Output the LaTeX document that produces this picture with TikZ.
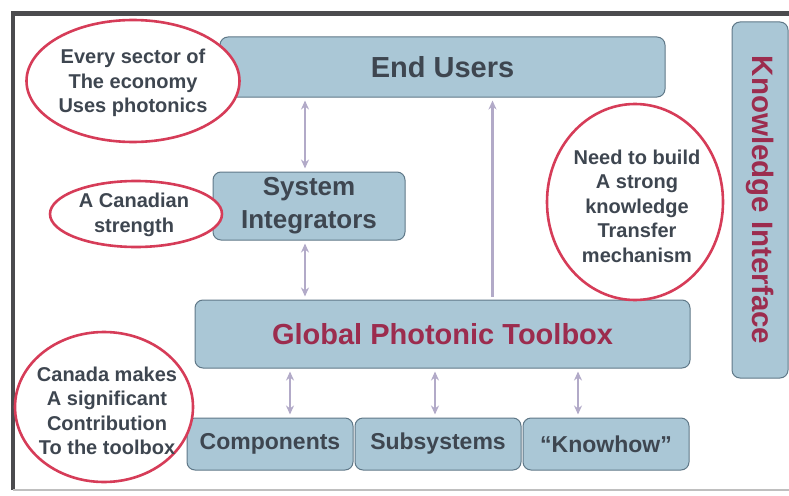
\documentclass[tikz,border=0pt]{standalone}
\usepackage{fontspec}
\setmainfont{Liberation Sans}
\usetikzlibrary{positioning, arrows.meta, shapes.geometric}

\definecolor{boxblue}{RGB}{170,199,214}
\definecolor{boxedge}{RGB}{95,120,136}
\definecolor{textgray}{RGB}{62,70,80}
\definecolor{toolred}{RGB}{156,44,78}
\definecolor{remarkred}{RGB}{214,60,88}
\definecolor{linkgray}{RGB}{178,170,200}
\definecolor{framegray}{RGB}{75,75,78}

\tikzset{
    block/.style={ % Sets the properties for each blue box
        draw=boxedge, fill=boxblue,
        line width=1pt,
        rounded corners=8pt,
        inner sep=0pt,
        align=center,
        text=textgray,
        font=\bfseries
    },
    remark/.style={ % Red ellipse round a comment
        ellipse,
        draw=remarkred, fill=white,
        line width=2.6pt,
        inner sep=0pt
    },
    remarktext/.style={
        align=center, inner sep=0pt,
        text=textgray,
        font=\bfseries\fontsize{20}{24.5}\selectfont
    },
    link/.style={ % Connectors between boxes
        draw=linkgray,
        line width=2.6pt,
        <->,>={Stealth[length=9pt,width=8pt]},
        shorten >=3pt, shorten <=3pt
    }
}

\begin{document}
\begin{tikzpicture}[x=1pt, y=-1pt]
    \useasboundingbox (0,0) rectangle (789,495);
    % frame
    \draw[framegray, line width=5pt] (11,14) -- (789,14);
    \draw[framegray, line width=3.5pt] (13,14) -- (13,490);
    \draw[black!25, line width=1.5pt] (13,490) -- (789,490);

    % boxes
    \node[block, minimum width=445pt, minimum height=60pt,
          font=\bfseries\fontsize{29}{34}\selectfont] (users) at (442.5,67) {End Users};
    \node[block, minimum width=192pt, minimum height=68pt,
          font=\bfseries\fontsize{26}{33}\selectfont] (sys) at (309,206) {System\\Integrators};
    \node[block, minimum width=495pt, minimum height=68pt, text=toolred,
          font=\bfseries\fontsize{29}{34}\selectfont] (tool) at (442.5,334) {Global Photonic Toolbox};
    \node[block, minimum width=166pt, minimum height=52pt,
          font=\bfseries\fontsize{23}{28}\selectfont] (comp) at (270,444) {Components};
    \node[block, minimum width=166pt, minimum height=52pt, right=1pt of comp,
          font=\bfseries\fontsize{23}{28}\selectfont] (subsys) {Subsystems};
    \node[block, minimum width=166pt, minimum height=52pt, right=1pt of subsys,
          font=\bfseries\fontsize{23}{28}\selectfont] (knowhow) {“Knowhow”};
    \node[block, minimum width=56pt, minimum height=356pt, text=toolred,
          font=\bfseries\fontsize{29.5}{34}\selectfont] (know) at (760,200) {};
    \node[text=toolred, rotate=-90, inner sep=0pt,
          font=\bfseries\fontsize{29.5}{34}\selectfont] (know-t) at (know) {Knowledge Interface};

    % connectors
    \draw[link] ([xshift=-4pt]sys.north) -- ([xshift=-4pt]sys.north |- users.south);
    \draw[link] ([xshift=-4pt]sys.south) -- ([xshift=-4pt]sys.south |- tool.north);
    \draw[link, <-] ([xshift=50pt]users.south) -- ([xshift=50pt]users.south |- tool.north);
    \draw[link] ([xshift=20pt]comp.north) -- ([xshift=20pt]comp.north |- tool.south);
    \draw[link] ([xshift=-3pt]subsys.north) -- ([xshift=-3pt]subsys.north |- tool.south);
    \draw[link] ([xshift=-28pt]knowhow.north) -- ([xshift=-28pt]knowhow.north |- tool.south);

    % comments
    \node[remark, minimum width=213pt, minimum height=122pt] (sector) at (133,81) {};
    \node[remarktext] (sector-t) at (133,83) {Every sector of\\The economy\\Uses photonics};
    \node[remark, minimum width=172pt, minimum height=66pt] (strength) at (136,214) {};
    \node[remarktext] (strength-t) at (134,215) {A Canadian\\strength};
    \node[remark, minimum width=176pt, minimum height=196pt] (transfer) at (635,202) {};
    \node[remarktext] (transfer-t) at (637,206) {Need to build\\A strong\\knowledge\\Transfer\\mechanism};
    \node[remark, minimum width=178pt, minimum height=150pt] (toolbox) at (104,407) {};
    \node[remarktext] (toolbox-t) at (107,411) {Canada makes\\A significant\\Contribution\\To the toolbox};
\end{tikzpicture}
\end{document}
